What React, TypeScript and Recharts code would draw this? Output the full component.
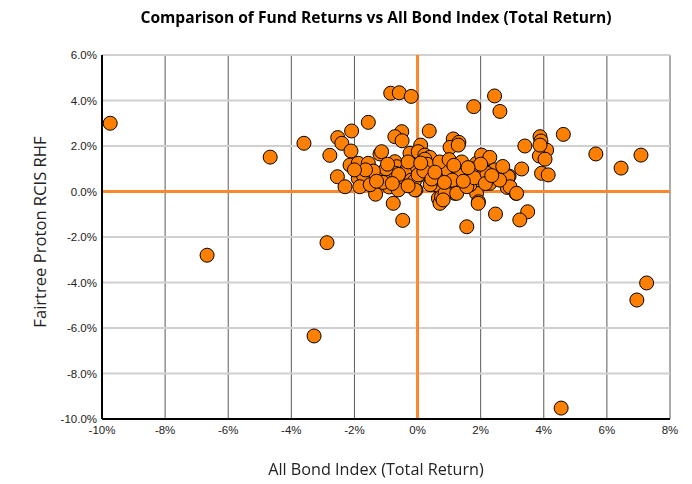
import React from 'react';
import {
    ScatterChart,
    Scatter,
    XAxis,
    YAxis,
    CartesianGrid,
    ReferenceLine,
} from 'recharts';

// All Bond Index return (x, %) vs fund return (y, %)
const INDEX_RETURNS = [
    -9.74, -6.67, -4.67, -3.6, -2.87, -3.28, 4.55, 6.95, 7.26, 6.45, 7.08, 5.65, 4.62,
    -0.85, -0.58, -0.2, 1.78, 2.44, 2.61, -1.56, -2.09, -2.53, -2.4, -2.78, -2.11, -0.5,
    -0.72, -0.49, 0.37, 1.13, 1.31, 1.03, 0.1, -1.19, -1.14,
    -2.14, -1.88, -1.56, -2.54, -2.3, -1.88, -1.72, -1.83, -1.33, -1.19, -0.93, -0.72,
    -0.66, -0.77, -0.47, -0.56, -0.35, -0.08, 0.08, -0.05, 0.21, -0.24, 0.02, 0.23, 0.39,
    0.23, -0.7, -0.4, -0.2, -1.0, -1.4, -0.9, -0.6, -0.1,
    -0.61, 0.02, -0.08, 0.66, 0.87, 0.66, 0.71,
    0.5, 0.6, 0.76, 0.92, 0.97, 1.18, 1.34, 1.5, 1.24, 1.56, 1.87, 2.03, 2.29, 2.08, 2.45,
    2.29, 1.87, 1.93, 1.66, 2.47, 2.9, 2.84, 3.12, 3.3, 3.49, 3.24, 3.4, 3.88, 3.91, 4.09,
    3.86, 4.04, 3.93, 4.14,
    1.29, 0.87, 1.34, 2.87, 2.93, 3.14, 3.88, 0.87, 1.24, 1.56, 0.81, 1.92,
    0.3, 0.7, 1.0, 1.1, 0.4, 0.2, 1.7, 1.8, 2.2, 2.6, 1.4, 0.6, -0.3, -1.1, -1.5, 2.0, 2.7,
    -1.3, -0.8, -0.3, 0.45, 0.85, 1.15, 1.6, 2.15, -1.65, -0.95, 0.1, 0.55, 1.45, 2.35, -2.0,
];
const FUND_RETURNS = [
    3.0, -2.8, 1.51, 2.12, -2.25, -6.35, -9.52, -4.77, -4.02, 1.03, 1.6, 1.65, 2.51,
    4.32, 4.34, 4.18, 3.73, 4.2, 3.52, 3.04, 2.66, 2.37, 2.12, 1.59, 1.78, 2.63,
    2.41, 2.23, 2.66, 2.31, 2.16, 1.94, 2.04, 1.65, 1.75,
    1.16, 1.24, 1.24, 0.65, 0.21, 0.58, 0.72, 0.21, -0.12, 0.65, 0.58, 1.31,
    1.09, -0.52, -1.27, 0.36, 0.95, 1.02, 0.73, 0.07, 1.46, 1.68, 1.75, 1.6, 1.5,
    1.42, 0.8, 0.8, 0.5, 1.0, 0.9, 0.2, 0.75, 0.45,
    0.07, 0.73, 0.07, 0.36, 0.87, -0.3, -0.52,
    1.02, 0.29, -0.23, 1.09, 0.29, -0.08, 0.95, 0.65, 0.65, -1.55, 1.24, 1.6, 1.5, 0.95, 0.95,
    0.36, -0.08, -0.45, 0.29, -0.99, 0.68, 0.18, -0.08, 0.99, -0.89, -1.25, 2.0, 2.41, 2.22, 1.82,
    1.56, 1.42, 0.8, 0.73,
    2.04, 0.95, 0.87, 0.65, 0.21, -0.08, 2.04, -0.08, -0.08, 0.21, -0.37, -0.52,
    1.2, 1.3, 1.4, 0.5, 0.3, 0.9, 1.0, 0.6, 0.8, 0.5, 1.3, 0.6, 1.3, 0.4, 0.3, 1.2, 1.1,
    0.45, 0.35, 0.25, 0.55, 0.4, 1.15, 1.05, 0.35, 0.95, 1.2, 1.25, 0.85, 0.45, 0.7, 0.95,
];

const X_TICKS = [-10, -8, -6, -4, -2, 0, 2, 4, 6, 8];
const Y_TICKS = [-10, -8, -6, -4, -2, 0, 2, 4, 6];

const data = INDEX_RETURNS.map((x, i) => ({ x, y: FUND_RETURNS[i] }));

const TICK_STYLE = { fontSize: 11.5, fill: '#222', fontFamily: '"Liberation Sans", Arial, sans-serif' };

const Dot = (props: any) => (
    <circle cx={props.cx} cy={props.cy} r={7} fill="#ff8000" stroke="#000" strokeWidth={1} />
);

export default function App() {
    return (
        <div style={{ position: 'fixed', left: 0, top: 0, width: 692, height: 484, background: '#fff' }}>
            <ScatterChart width={692} height={484} margin={{ top: 55, right: 22, bottom: 35, left: 0 }}>
                <CartesianGrid horizontal={false} stroke="#5a5a5a" />
                <CartesianGrid vertical={false} stroke="#d0d0d0" strokeWidth={2} />
                <XAxis
                    type="number"
                    dataKey="x"
                    domain={[-10, 8]}
                    ticks={X_TICKS}
                    tickFormatter={(v) => `${v}%`}
                    tick={TICK_STYLE}
                    tickLine={false}
                    tickSize={5}
                    axisLine={{ stroke: '#000', strokeWidth: 2 }}
                    height={30}
                    allowDataOverflow
                />
                <YAxis
                    type="number"
                    dataKey="y"
                    domain={[-10, 6]}
                    ticks={Y_TICKS}
                    tickFormatter={(v) => `${v.toFixed(1)}%`}
                    tick={TICK_STYLE}
                    tickLine={false}
                    tickSize={3}
                    tickMargin={2}
                    axisLine={{ stroke: '#000', strokeWidth: 2 }}
                    width={102}
                    allowDataOverflow
                />
                <ReferenceLine x={0} stroke="#f7882f" strokeWidth={3} />
                <ReferenceLine y={0} stroke="#f7882f" strokeWidth={3} />
                <Scatter data={data} shape={Dot} isAnimationActive={false} />
            </ScatterChart>
            <div
                style={{
                    position: 'absolute', top: 6, left: 0, width: 752, textAlign: 'center',
                    fontFamily: '"Open Sans", sans-serif', fontWeight: 700, fontSize: 15.6, color: '#000',
                }}
            >
                Comparison of Fund Returns vs All Bond Index (Total Return)
            </div>
            <div
                style={{
                    position: 'absolute', top: 458, left: 0, width: 752, textAlign: 'center',
                    fontFamily: '"Open Sans", sans-serif', fontSize: 16.2, color: '#222',
                }}
            >
                All Bond Index (Total Return)
            </div>
            <div
                style={{
                    position: 'absolute', left: 40, top: 232, width: 300, marginLeft: -150, marginTop: -12,
                    textAlign: 'center', transform: 'rotate(-90deg)',
                    fontFamily: '"Open Sans", sans-serif', fontSize: 16.6, color: '#222', lineHeight: '24px',
                }}
            >
                Fairtree Proton RCIS RHF
            </div>
        </div>
    );
}
